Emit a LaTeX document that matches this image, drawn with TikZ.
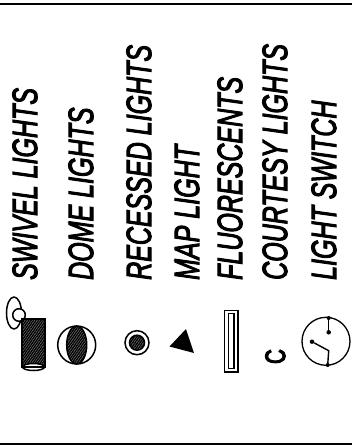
\documentclass[tikz,border=0pt]{standalone}
\usepackage{fontspec}
\setmainfont{Liberation Sans}
\newfontfamily\labfont[ItalicFeatures={FakeBold=3.5}]{Liberation Sans}
\newfontfamily\capfont[FakeBold=5]{Liberation Sans}
\usetikzlibrary{patterns.meta}
\tikzset{lab/.style={anchor=base west,inner sep=0pt,rotate=90,xscale=.715,font=\labfont\itshape\fontsize{35}{35}\selectfont},
 rule/.style={line width=1.6pt},
 sym/.style={draw,line width=1.5pt},
 hatch/.style={sym,pattern={Lines[angle=55,distance=2pt,line width=1.3pt]}},
 lead/.style={line width=1.4pt},
 pin/.style={circle,fill,inner sep=0pt,minimum size=4.5pt}}

\begin{document}
\begin{tikzpicture}[x=1pt,y=-1pt]
\useasboundingbox (0,0) rectangle (352,445);
\draw[rule] (0,4)--(352,4);
\draw[rule] (0,444)--(352,444);
% labels
\node[lab] (swivel) at (37,280) {SWIVEL LIGHTS};
\node[lab] (dome) at (93,280) {DOME LIGHTS};
\node[lab] (recessed) at (151,280) {RECESSED LIGHTS};
\node[lab] (map) at (199,280) {MAP LIGHT};
\node[lab] (fluor) at (242,280) {FLUORESCENTS};
\node[lab] (courtesy) at (287,280) {COURTESY LIGHTS};
\node[lab] (switch) at (336,280) {LIGHT SWITCH};
% swivel
\draw[sym] (14,313) ellipse (7.5 and 16);
\draw[sym,fill=white] (19,315) circle (6.3);
\fill[black!55] (22,319) rectangle (45,367);
\draw[hatch] (22,319) rectangle (45,367);
\draw[sym,fill=white] (33.5,367) ellipse (11 and 3.5);
\draw[sym] (22,367)--(45,367);
% dome
\draw[sym] (76.7,345) circle (19);
\fill[black!55] (76.7,345) ellipse (10 and 19);
\draw[hatch] (76.7,345) ellipse (10 and 19);
% recessed
\draw[sym] (137,342.7) circle (12);
\fill[black!55] (137,342.7) circle (7.5);
\draw[hatch] (137,342.7) circle (7.5);
% map
\fill (169.5,346.5)--(186,329)--(194,353)--cycle;
% fluorescent
\draw[line width=1.1pt] (224.7,310.7) rectangle (238,372);
\draw[line width=1.1pt] (228.7,313.5) rectangle (234,368.5);
% courtesy symbol
\node[anchor=base west,inner sep=0pt,rotate=90,xscale=.72,font=\capfont\fontsize{28}{28}\selectfont] (csym) at (285,364) {C};
% switch
\node[draw,circle,line width=1.3pt,minimum size=48pt,inner sep=0pt] (sw) at (326,341.3) {};
\node[pin] (pa) at (328.7,332.3) {};
\node[pin] (pb) at (312,341.7) {};
\coordinate (ta) at (328.7,318);
\coordinate (tb) at (327.7,365);
\coordinate (kn) at (328.7,350.7);
\draw[lead] (ta)--(pa);
\draw[lead] (tb)--(kn)--(pb);
\fill (ta) circle (2);
\fill (tb) circle (2);
\end{tikzpicture}
\end{document}
